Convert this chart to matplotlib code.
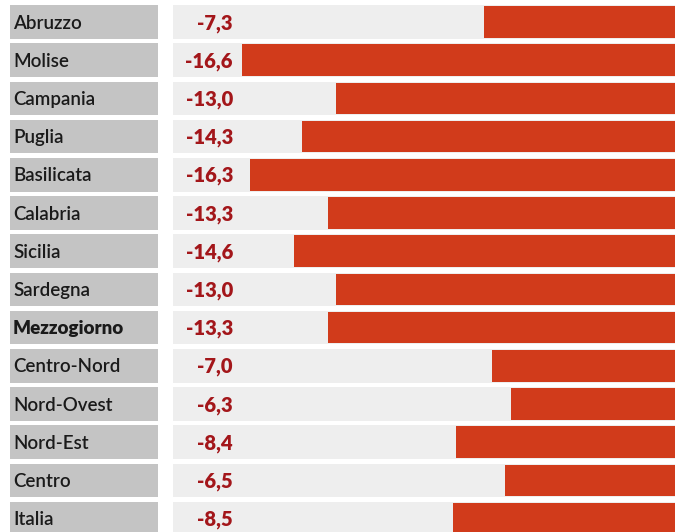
import matplotlib
matplotlib.use("Agg")
import matplotlib.pyplot as plt
import matplotlib.transforms as mtransforms
from matplotlib.patches import Rectangle

regions = ["Abruzzo", "Molise", "Campania", "Puglia", "Basilicata", "Calabria",
           "Sicilia", "Sardegna", "Mezzogiorno", "Centro-Nord", "Nord-Ovest",
           "Nord-Est", "Centro", "Italia"]
values = [-7.3, -16.6, -13.0, -14.3, -16.3, -13.3, -14.6, -13.0, -13.3,
          -7.0, -6.3, -8.4, -6.5, -8.5]
value_labels = ["-7,3", "-16,6", "-13,0", "-14,3", "-16,3", "-13,3", "-14,6",
                "-13,0", "-13,3", "-7,0", "-6,3", "-8,4", "-6,5", "-8,5"]
bold_rows = ["Mezzogiorno"]

W, H = 675, 532
fig = plt.figure(figsize=(W / 100, H / 100), dpi=100)
fig.patch.set_facecolor("white")
ax = fig.add_axes([0, 0, 1, 1])
ax.set_axis_off()

pitch = 38.2
top_center = 22.0
px_per_unit = 26.1
ax.set_xlim(-W / px_per_unit, 0)
ax.set_ylim((H - top_center) / pitch, -top_center / pitch)

trans = mtransforms.blended_transform_factory(ax.transAxes, ax.transData)
band_h = 0.88
bar_h = 0.83
label_gray = "#c4c4c4"
band_gray = "#eeeeee"
bar_color = "#d13b1b"
value_color = "#a3161a"

for i, (name, v, vl) in enumerate(zip(regions, values, value_labels)):
    ax.add_patch(Rectangle((10 / W, i - band_h / 2), 148 / W, band_h,
                           transform=trans, facecolor=label_gray, edgecolor="none", zorder=1))
    ax.add_patch(Rectangle((173 / W, i - band_h / 2), 1 - 173 / W + 0.01, band_h,
                           transform=trans, facecolor=band_gray, edgecolor="none", zorder=1))
    ax.text(13 / W, i + 0.03, name, transform=trans, ha="left", va="center",
            fontsize=13.5, family="Lato",
            fontweight="heavy" if name in bold_rows else "semibold",
            color="#1a1a1a", zorder=3)
    ax.text(233 / W, i + 0.03, vl, transform=trans, ha="right", va="center",
            fontsize=14.5, family="Lato", fontweight="heavy",
            color=value_color, zorder=3)

ax.barh(range(len(regions)), values, height=bar_h, color=bar_color,
        edgecolor="none", zorder=2)

fig.savefig("out.png", dpi=100, facecolor="white")
